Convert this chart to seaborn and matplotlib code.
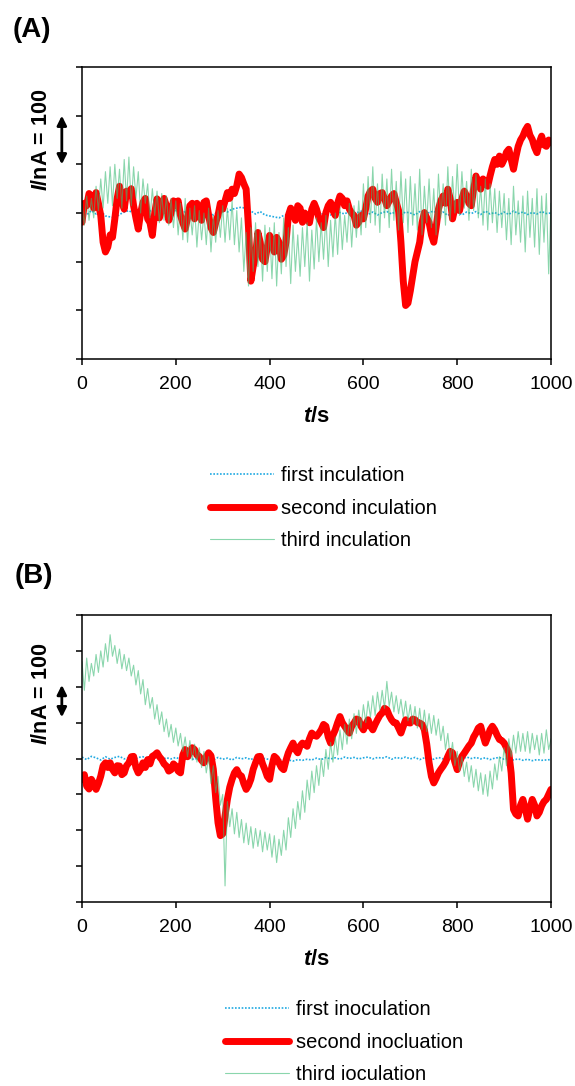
import numpy as np
import seaborn as sns
import matplotlib.pyplot as plt

# sampling steps (s) of the hand-read series
step_first = 10
step_second = 5
step_third = 5

# ---- panel (A), current in nA ----
first_a = [3, -4, 5, -2, 4, -6, -8, -10, -3, 2,
           5, -1, 3, -4, 2, 6, -2, 4, -3, 1,
           5, -2, 3, -5, 1, 4, -3, 2, -4, 3,
           6, 2, 8, 10, 12, 9, 4, -2, 3, -4,
           -6, -8, -10, -5, -3, 2, -1, 4, -2, 3,
           0, -3, 2, -4, 3, 1, -2, 4, -1, 2,
           5, -3, 2, -4, 1, 3, -2, 4, -3, 2,
           0, -4, 3, -2, 1, 4, -3, 2, -5, 1,
           3, -4, 2, -1, 3, -3, 4, -2, 1, -4,
           2, -3, 4, -1, 2, -3, 1, -2, 3, -1,
           0]

second_a = [-19, 20, 15, 40, 35, 10, 42, 20, -5, -60,
            -80, -70, -45, -50, -12, 30, 55, 25, 8, 45,
            39, 50, 15, -10, -33, 0, 22, 30, -12, -20,
            -46, 0, 29, -10, 8, 30, 15, -15, 0, 25,
            15, 25, -5, -20, -33, -10, 15, 20, -12, 20,
            8, -15, 22, 25, -5, -30, -40, -20, -5, 20,
            8, 25, 42, 30, 49, 40, 56, 80, 73, 60,
            49, -30, -140, -110, -87, -40, -60, -95, -100, -70,
            -46, -60, -80, -50, -60, -95, -87, -60, -5, 10,
            1, -15, 15, 10, -19, 0, -12, -20, 8, 20,
            8, -10, -19, -30, 1, 15, 22, 5, -5, 20,
            35, 30, 15, 25, 8, 0, -5, -25, -19, -5,
            -12, 10, 35, 45, 49, 30, 22, 40, 42, 30,
            15, 25, 35, 40, 22, 5, -60, -140, -190, -185,
            -160, -130, -100, -80, -60, -20, 1, -10, -19, -45,
            -60, -30, 8, 25, 35, 20, 49, 30, -12, 10,
            22, 5, 29, 45, 35, 20, 15, 50, 76, 60,
            49, 70, 63, 55, 76, 95, 110, 100, 117, 100,
            110, 125, 131, 110, 90, 115, 137, 150, 158, 170,
            178, 160, 151, 135, 124, 145, 158, 140, 137, 150,
            144]

third_a = [20, -25, 35, -15, 30, -10, 55, 5, 70, 10,
           85, 20, 95, 15, 100, 30, 90, 10, 110, 25,
           115, 15, 95, 30, 85, 0, 70, 20, 60, -10,
           50, -5, 45, -20, 40, -15, 35, -25, 30, -30,
           25, -45, 20, -55, 30, -60, 10, -45, 15, -70,
           5, -55, 0, -65, 10, -80, -5, -60, 5, -50,
           15, -60, 10, -55, 25, -65, 5, -80, -10, -120,
           -40, -150, -30, -120, -20, -110, -35, -140, -25, -120,
           -30, -135, -20, -150, -40, -125, -10, -110, -30, -145,
           -25, -120, -45, -130, -30, -110, -20, -140, -35, -115,
           -10, -100, -20, -95, -5, -110, -15, -90, 0, -85,
           10, -75, -5, -60, 20, -70, 15, -50, 25, -45,
           60, -30, 75, -20, 95, -25, 60, -40, 80, -10,
           70, -30, 90, -15, 65, -35, 85, -20, 70, -40,
           75, -25, 60, -35, 90, -45, 55, -20, 70, -30,
           50, -45, 80, -10, 60, -25, 95, -15, 75, 0,
           100, -5, 85, 10, 65, -15, 90, 5, 80, -10,
           55, -25, 70, -35, 60, -20, 50, -40, 45, -30,
           40, -55, 30, -65, 55, -45, 25, -60, 35, -80,
           45, -50, 30, -70, 50, -85, 35, -60, 40, -125,
           20]

# ---- panel (B), current in nA ----
first_b = [4, -3, 6, 2, -4, 5, -2, 3, 6, -1,
           2, -4, 3, 5, -2, 1, 4, -3, 2, -1,
           3, -2, 5, 1, -3, 4, -1, 2, -4, 3,
           -2, 1, -4, 3, -1, 2, -3, 4, -2, 0,
           -3, -5, -2, -6, -4, -7, -3, -5, -2, -4,
           1, -3, 3, -1, 2, -2, 4, 0, 3, -1,
           2, 4, -1, 3, 1, 5, -2, 3, 0, 4,
           -1, 3, -3, 2, 0, -2, 3, -1, 2, -3,
           1, -2, 4, 0, 3, -1, 2, -3, 1, 3,
           -2, 0, -4, -1, -5, -2, -6, -3, -5, -4,
           -3]

second_b = [-58, -45, -77, -85, -58, -70, -86, -70, -49, -20,
            -12, -25, -12, -30, -40, -20, -21, -45, -40, -20,
            -12, 5, 6, -25, -40, -30, -12, -25, -3, -15,
            6, 10, 16, 5, -3, -15, -21, -35, -31, -15,
            -21, -35, -40, 10, 25, 5, 16, 30, 25, 10,
            6, -5, -12, 5, 16, 8, -30, -110, -179, -215,
            -210, -160, -114, -80, -58, -40, -31, -45, -49, -70,
            -86, -75, -58, -30, -12, 5, 6, -15, -31, -50,
            -58, -20, 6, 0, -12, -25, -31, -5, 16, 30,
            43, 25, 16, 35, 43, 40, 34, 55, 71, 65,
            62, 70, 80, 95, 90, 60, 43, 65, 80, 100,
            117, 100, 90, 80, 71, 90, 99, 110, 108, 90,
            80, 95, 108, 90, 80, 95, 108, 120, 127, 140,
            136, 120, 108, 100, 99, 85, 71, 90, 108, 100,
            99, 110, 108, 100, 99, 95, 80, 40, -12, -50,
            -68, -55, -40, -30, -21, -10, 6, 20, 16, -10,
            -31, -10, 6, 15, 25, 35, 43, 60, 71, 85,
            90, 65, 43, 60, 80, 90, 80, 65, 53, 50,
            43, 30, 16, -40, -142, -155, -160, -130, -114, -140,
            -169, -140, -114, -130, -160, -150, -132, -120, -114, -100,
            -86]

third_b = [270, 190, 280, 215, 265, 230, 290, 240, 300, 255,
           320, 270, 345, 285, 315, 265, 305, 250, 290, 245,
           280, 230, 260, 205, 245, 180, 220, 150, 195, 140,
           170, 110, 150, 95, 130, 75, 110, 60, 95, 45,
           85, 35, 70, 20, 60, 5, 50, -5, 40, -10,
           30, -25, 20, -40, 5, -70, -20, -95, -50, -130,
           -100, -355, -120, -190, -140, -210, -150, -220, -170, -235,
           -180, -240, -190, -250, -195, -245, -200, -260, -205, -255,
           -210, -275, -215, -290, -225, -270, -200, -255, -165, -220,
           -140, -195, -120, -170, -90, -150, -60, -115, -35, -95,
           -20, -75, 0, -50, 25, -30, 45, -10, 60, 10,
           80, 25, 95, 40, 110, 55, 125, 70, 135, 85,
           150, 100, 160, 115, 175, 120, 185, 135, 190, 140,
           215, 145, 185, 130, 175, 125, 165, 115, 160, 105,
           150, 95, 145, 85, 140, 80, 135, 75, 125, 70,
           120, 65, 110, 50, 90, 25, 70, 0, 45, -20,
           20, -35, 5, -50, -10, -65, -20, -80, -30, -90,
           -40, -100, -45, -105, -35, -85, -15, -60, 5, -35,
           30, -20, 55, 5, 65, 15, 75, 20, 70, 20,
           75, 15, 70, 25, 65, 10, 70, 15, 80, 25,
           55]

labels_a = ['first inculation', 'second inculation', 'third inculation']
labels_b = ['first inoculation', 'second inocluation', 'third ioculation']
x_ticks = [0, 200, 400, 600, 800, 1000]

BLUE = '#1FA9E1'
RED = '#FF0000'
GREEN = '#3DBB76'

sns.set_style('ticks')
plt.rcParams['font.family'] = ['Liberation Sans', 'DejaVu Sans']
plt.rcParams['mathtext.fontset'] = 'custom'
plt.rcParams['mathtext.it'] = 'Liberation Sans:italic:bold'
plt.rcParams['mathtext.rm'] = 'Liberation Sans:bold'
for key in ['text.color', 'axes.labelcolor', 'xtick.color', 'ytick.color']:
    plt.rcParams[key] = 'black'


def draw_panel(ax, first, second, third, labels, ylim, arrow, ylab_y):
    t1 = np.arange(len(first)) * step_first
    t2 = np.arange(len(second)) * step_second
    t3 = np.arange(len(third)) * step_third

    sns.lineplot(x=t1, y=first, ax=ax, color=BLUE, lw=1.2, linestyle=(0, (1, 1)),
                 label=labels[0])
    sns.lineplot(x=t2, y=second, ax=ax, color=RED, lw=5, label=labels[1],
                 solid_capstyle='round', solid_joinstyle='round')
    sns.lineplot(x=t3, y=third, ax=ax, color=GREEN, lw=0.8, alpha=0.6,
                 label=labels[2])

    ax.set_xlim(0, 1000)
    ax.set_ylim(-ylim, ylim)
    ax.set_xticks(x_ticks)
    ax.set_yticks(np.arange(-ylim, ylim + 1, 100))
    ax.set_yticklabels([])
    ax.tick_params(axis='both', direction='out', length=4.5, width=1.1,
                   labelsize=14, pad=8)
    for s in ax.spines.values():
        s.set_visible(True)
        s.set_linewidth(1.1)
        s.set_color('black')
    ax.set_xlabel(r'$t$/s', fontsize=16, fontweight='bold', labelpad=9)
    ax.set_ylabel('')

    # y scale text and arrow
    ax.text(-0.087, ylab_y, r'$I$/nA = 100', transform=ax.get_yaxis_transform(),
            rotation=90, ha='center', va='center', fontsize=15.5, fontweight='bold')
    ax.annotate('', xy=(-0.043, arrow[0]), xytext=(-0.043, arrow[1]),
                xycoords=ax.get_yaxis_transform(), textcoords=ax.get_yaxis_transform(),
                arrowprops=dict(arrowstyle='<|-|>', color='black', lw=2,
                                mutation_scale=14, shrinkA=0, shrinkB=0),
                annotation_clip=False)

    handles, labs = ax.get_legend_handles_labels()
    ax.get_legend().remove()
    return handles, labs


fig = plt.figure(figsize=(5.75, 10.86), dpi=100)
ax_a = fig.add_axes([0.1426, 0.6694, 0.8157, 0.2689])
ax_b = fig.add_axes([0.1426, 0.1694, 0.8157, 0.2643])

h_a, l_a = draw_panel(ax_a, first_a, second_a, third_a, labels_a, 300, (200, 100), 150)
h_b, l_b = draw_panel(ax_b, first_b, second_b, third_b, labels_b, 400, (205, 115), 180)

leg_kw = dict(loc='upper left', frameon=False, fontsize=14.5, handlelength=3.2,
              handletextpad=0.35, labelspacing=0.68, borderpad=0, borderaxespad=0)
fig.legend(h_a, l_a, bbox_to_anchor=(210 / 575, 1 - 466 / 1086), **leg_kw)
fig.legend(h_b, l_b, bbox_to_anchor=(225 / 575, 1 - 1000 / 1086), **leg_kw)

fig.text(13 / 575, 1 - 30 / 1086, '(A)', fontsize=20, fontweight='bold', va='center')
fig.text(15 / 575, 1 - 576 / 1086, '(B)', fontsize=20, fontweight='bold', va='center')

fig.savefig('out.png', dpi=100)
